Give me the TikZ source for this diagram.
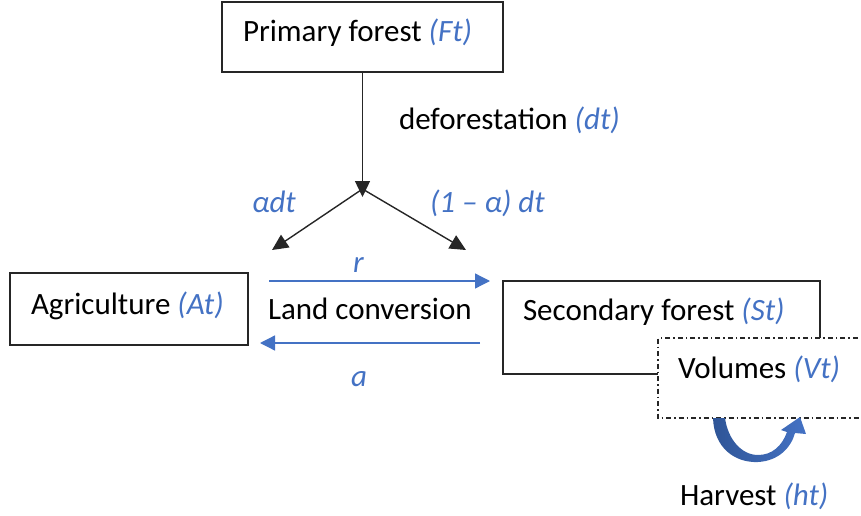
\documentclass[tikz,border=0pt]{standalone}
\usepackage{fontspec}
\setmainfont{Carlito}
\usetikzlibrary{arrows.meta}
\definecolor{accent}{HTML}{4472C4}
\definecolor{accentdark}{HTML}{2F5597}
\newcommand{\var}[1]{\textcolor{accent}{\textit{#1}}}
\tikzset{
  box/.style={draw=black!85, line width=1.2pt, fill=white, inner sep=0pt, outer sep=0pt},
  txt/.style={inner sep=0pt, outer sep=0pt, anchor=base west, font=\fontsize{31}{37}\selectfont},
  flow/.style={draw=black!85, line width=1.4pt, -{Triangle[length=16pt,width=15pt]}},
  conv/.style={draw=accent, line width=1.3pt, -{Triangle[length=15pt,width=15pt]}}
}
\begin{document}
\begin{tikzpicture}[x=1pt,y=-1pt]
\useasboundingbox (0,0) rectangle (861,516);

% boxes
\node[box, minimum width=281pt, minimum height=70pt] (pf) at (362.5,37) {};
\node[box, minimum width=238pt, minimum height=72pt] (ag) at (129,309) {};
\node[box, minimum width=317pt, minimum height=93pt] (sf) at (661.5,327.5) {};

% volumes box, open towards the right edge
\fill[white] (658,338) rectangle (870,418);
\draw[black!85, line width=1.1pt, dash pattern=on 5pt off 3pt on 1.5pt off 3pt]
  (870,338) -- (658,338) -- (658,418) -- (870,418);
\coordinate (vol) at (760,378);

% box labels
\node[txt] (pfText) at (243,42) {Primary forest \var{(Ft)}};
\node[txt] (agText) at (31,314) {Agriculture \var{(At)}};
\node[txt] (sfText) at (523,320) {Secondary forest \var{(St)}};
\node[txt] (volText) at (678,378) {Volumes \var{(Vt)}};

% deforestation split
\coordinate (forkTip) at (362.5,197);
\coordinate (fork) at (362.5,189);
\coordinate (agTip) at (272,250);
\coordinate (sfTip) at (466,250);
\draw[flow] (pf.south -| forkTip) -- (forkTip);
\draw[flow] (fork) -- (agTip);
\draw[flow] (fork) -- (sfTip);

\node[txt] (defLabel) at (399,129) {deforestation \var{(dt)}};
\node[txt] (aLabel) at (252,212) {\var{αdt}};
\node[txt] (bLabel) at (430,212) {\var{(1 – α) dt}};

% land conversion
\coordinate (rStart) at (269,281);
\coordinate (rEnd) at (490,281);
\coordinate (aStart) at (480,343);
\coordinate (aEnd) at (260,343);
\draw[conv] (rStart) -- (rEnd);
\draw[conv] (aStart) -- (aEnd);
\node[txt] (rLabel) at (353,272) {\var{r}};
\node[txt] (lcLabel) at (268,319) {Land conversion};
\node[txt] (abLabel) at (351,386) {\var{a}};

% harvest loop
\shade[left color=accentdark, right color=accent]
  (713,418) .. controls (714,448) and (735,463) .. (758,462)
  .. controls (778,461) and (791,448) .. (795,433)
  -- (806,434) -- (800,417) -- (781,430) -- (787,432)
  .. controls (782,446) and (772,455) .. (758,455)
  .. controls (742,455) and (728,440) .. (725,418) -- cycle;
\node[txt] (hvLabel) at (680,505) {Harvest \var{(ht)}};
\end{tikzpicture}
\end{document}
